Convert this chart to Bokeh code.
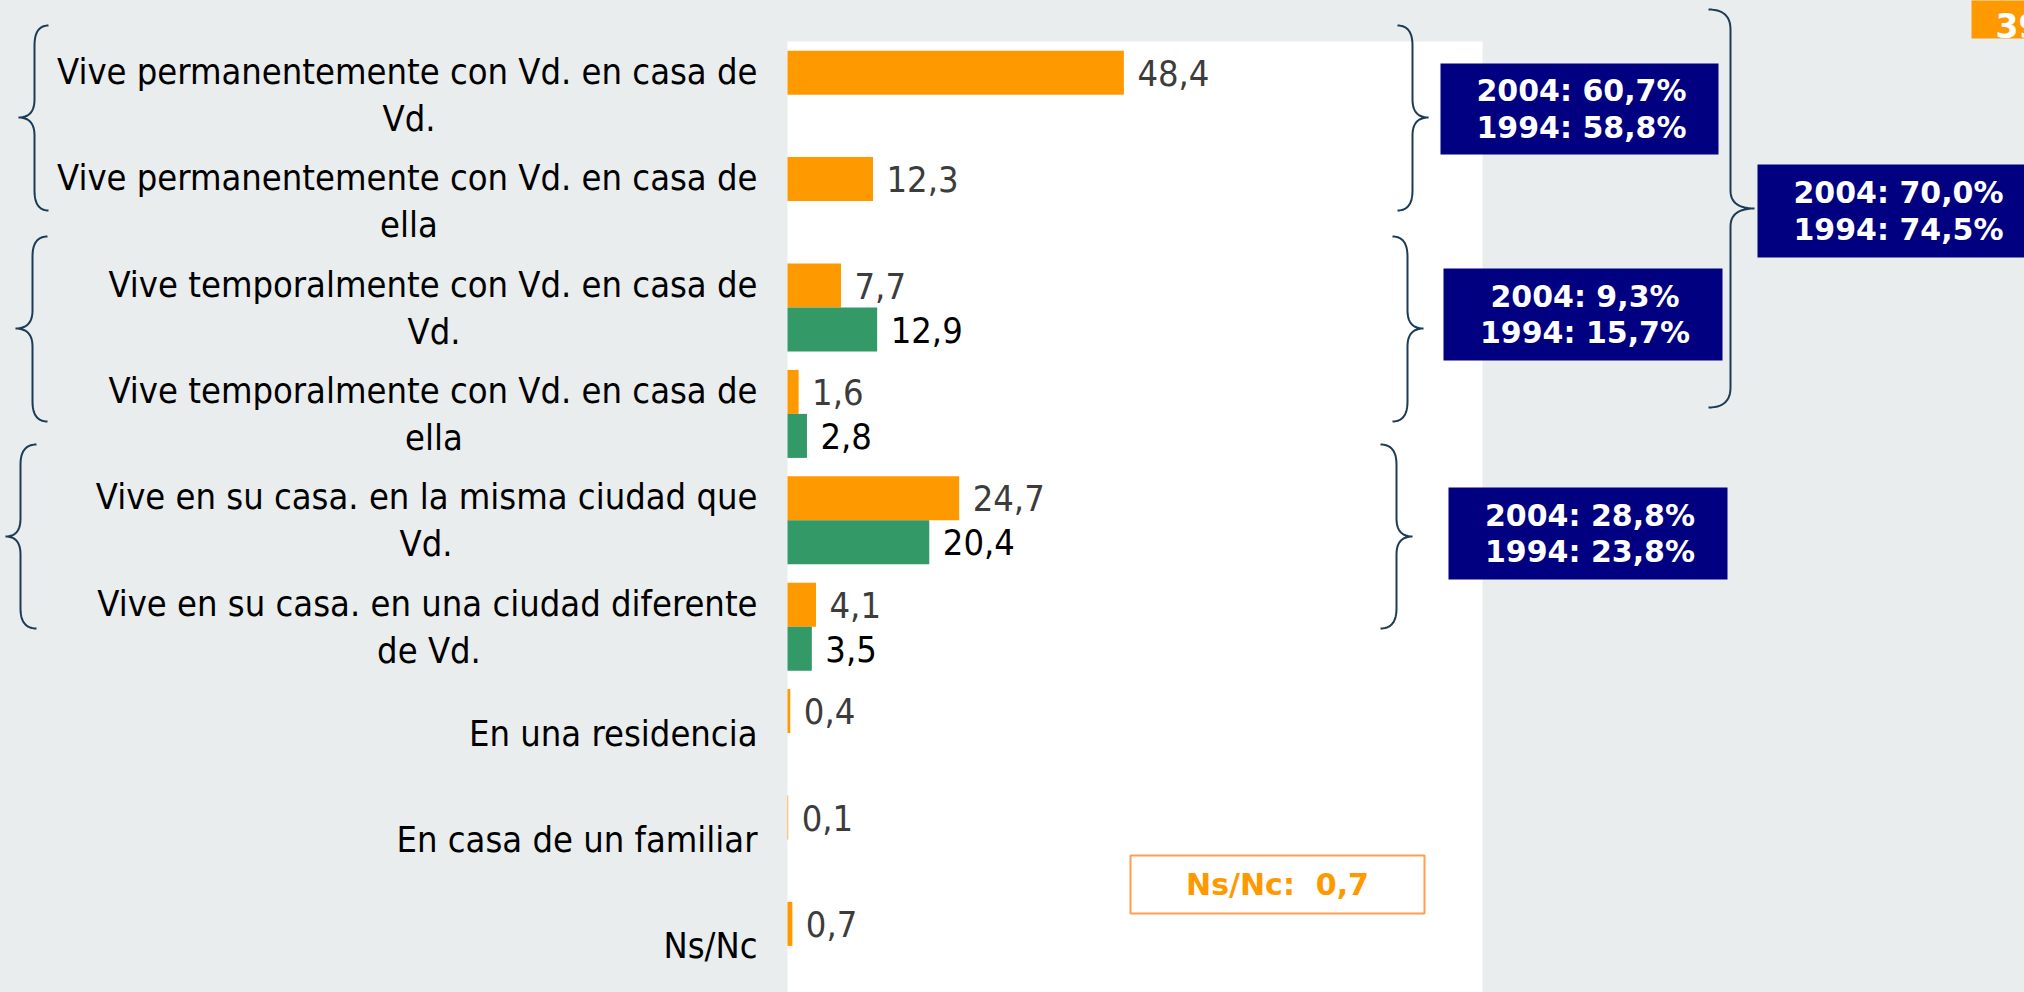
import numpy as np
from bokeh.plotting import figure
from bokeh.models import Range1d, BoxAnnotation
from bokeh.core.properties import value
from bokeh.embed import file_html
from bokeh.resources import INLINE

# ---------------- data ----------------
categories = [
    "Vive permanentemente con Vd. en casa de\nVd.",
    "Vive permanentemente con Vd. en casa de\nella",
    "Vive temporalmente con Vd. en casa de\nVd.",
    "Vive temporalmente con Vd. en casa de\nella",
    "Vive en su casa. en la misma ciudad que\nVd.",
    "Vive en su casa. en una ciudad diferente\nde Vd.",
    "En una residencia",
    "En casa de un familiar",
    "Ns/Nc",
]
values_2004 = [48.4, 12.3, 7.7, 1.6, 24.7, 4.1, 0.4, 0.1, 0.7]
values_1994 = [None, None, 12.9, 2.8, 20.4, 3.5, None, None, None]
group_totals_2004 = [60.7, 9.3, 28.8, 70.0]
group_totals_1994 = [58.8, 15.7, 23.8, 74.5]
page_number = "39"

# ---------------- layout / style ----------------
M = 0                      # page margin (set to 0 by the page style below)
W, H = 2024, 992           # figure size
PX0, KX = 787.0, 6.95      # page x of value 0, px per unit
PY0, KY = 41.0, 106.4      # page y of top of first slot, px per category
GRAY = "#E9EDEE"
ORANGE = "#FF9900"
GREEN = "#339966"
NAVY = "#000080"
BRACE = "#1B3B56"
FONT = "DejaVu Sans Condensed"
BOLD_FONT = "DejaVu Sans"

def X(px):
    return (px - PX0) / KX

def Y(py):
    return (py - PY0) / KY - 0.5

def fmt(v):
    return f"{v:.1f}".replace(".", ",")

p = figure(width=W, height=H, title=None,
           x_range=Range1d(X(M), X(M + W)), y_range=Range1d(Y(M + H), Y(M)),
           x_axis_type=None, y_axis_type=None,
           output_backend="svg", toolbar_location=None, min_border=0,
           background_fill_color=GRAY, border_fill_color=GRAY,
           outline_line_color=None)

# white plotting panel (value axis 0..100)
p.add_layout(BoxAnnotation(left=0, right=100, top=-0.5, fill_color="white",
                           fill_alpha=1, line_color=None, level="underlay"))

BAR_H = 44 / KY
idx = np.arange(len(categories))

# bars
p.hbar(y=idx - BAR_H / 2, left=0, right=values_2004, height=BAR_H,
       fill_color=ORANGE, line_color=None)
i94 = [i for i, v in enumerate(values_1994) if v is not None]
v94 = [values_1994[i] for i in i94]
p.hbar(y=[i + BAR_H / 2 for i in i94], left=0, right=v94, height=BAR_H,
       fill_color=GREEN, line_color=None)

# value labels
GAP = 13.5 / KX
p.text(x=[v + GAP for v in values_2004], y=idx - BAR_H / 2,
       text=[fmt(v) for v in values_2004], text_align="left", text_baseline="middle",
       text_font=value(FONT), text_font_size="36px", text_color="#3C3C3C")
p.text(x=[v + GAP for v in v94], y=[i + BAR_H / 2 for i in i94],
       text=[fmt(v) for v in v94], text_align="left", text_baseline="middle",
       text_font=value(FONT), text_font_size="36px", text_color="#000000")

# category labels (first line right-aligned, second line centred under it)
label_right_px = 757
label_line1_px = [697, 697, 647, 647, 663, 657, 0, 0, 0]
LINE_OFF = 23.5 / KY
l1x, l1y, l1t, l2x, l2y, l2t = [], [], [], [], [], []
for i, cat in enumerate(categories):
    parts = cat.split("\n")
    if len(parts) == 1:
        l1x.append(X(label_right_px)); l1y.append(i); l1t.append(parts[0])
    else:
        l1x.append(X(label_right_px)); l1y.append(i - LINE_OFF); l1t.append(parts[0])
        l2x.append(X(label_right_px - label_line1_px[i] / 2)); l2y.append(i + LINE_OFF); l2t.append(parts[1])
p.text(x=l1x, y=l1y, text=l1t, text_align="right", text_baseline="middle",
       text_font=value(FONT), text_font_size="36px", text_color="black")
p.text(x=l2x, y=l2y, text=l2t, text_align="center", text_baseline="middle",
       text_font=value(FONT), text_font_size="36px", text_color="black")

# braces  (end x, vertical x, tip x, top y, mid y, bottom y) in page px
def brace(xe, xv, xt, yt, ym, yb, re=20, rm=18, n=14):
    t = np.linspace(0, 1, n)
    def q(p0, c, p1):
        return ((1 - t) ** 2 * p0[0] + 2 * (1 - t) * t * c[0] + t ** 2 * p1[0],
                (1 - t) ** 2 * p0[1] + 2 * (1 - t) * t * c[1] + t ** 2 * p1[1])
    segs = [q((xe, yt), (xv, yt), (xv, yt + re)),
            q((xv, ym - rm), (xv, ym), (xt, ym)),
            q((xt, ym), (xv, ym), (xv, ym + rm)),
            q((xv, yb - re), (xv, yb), (xe, yb))]
    xs = np.concatenate([s[0] for s in segs])
    ys = np.concatenate([s[1] for s in segs])
    return [X(v) for v in xs], [Y(v) for v in ys]

brace_specs = [
    (48, 34, 18, 25, 117, 210),
    (47, 32, 15, 236, 328, 421),
    (36, 20, 5, 444, 536, 628),
    (1397, 1412, 1428, 25, 117, 210),
    (1392, 1407, 1423, 236, 328, 421),
    (1380, 1396, 1412, 444, 536, 628),
    (1708, 1730, 1754, 9, 208, 407),
]
bxs, bys = [], []
for spec in brace_specs:
    bx, by = brace(*spec)
    bxs.append(bx); bys.append(by)
p.multi_line(xs=bxs, ys=bys, line_color=BRACE, line_width=2)

# summary boxes (left, right, top, bottom) in page px
box_specs = [(1440, 1718, 63, 154), (1443, 1722, 268, 360),
             (1448, 1727, 487, 579), (1757, 2040, 164, 257)]
p.quad(left=[X(b[0]) for b in box_specs], right=[X(b[1]) for b in box_specs],
       top=[Y(b[2]) for b in box_specs], bottom=[Y(b[3]) for b in box_specs],
       fill_color=NAVY, line_color=None)
bx_c = [X((b[0] + b[1]) / 2 + 2) for b in box_specs[:3]] + [X(1898)]
by_c = [(b[2] + b[3]) / 2 for b in box_specs]
p.text(x=bx_c, y=[Y(c - 18.3) for c in by_c],
       text=[f"2004: {fmt(v)}%" for v in group_totals_2004],
       text_align="center", text_baseline="middle", text_font=value(BOLD_FONT),
       text_font_style="bold", text_font_size="30px", text_color="white")
p.text(x=bx_c, y=[Y(c + 18.3) for c in by_c],
       text=[f"1994: {fmt(v)}%" for v in group_totals_1994],
       text_align="center", text_baseline="middle", text_font=value(BOLD_FONT),
       text_font_style="bold", text_font_size="30px", text_color="white")

# Ns/Nc box
p.quad(left=[X(1130)], right=[X(1424)], top=[Y(855)], bottom=[Y(913)],
       fill_color="white", line_color="#FF9E4F", line_width=2)
p.text(x=[X(1277)], y=[Y(884)], text=[f"Ns/Nc:\u00a0 {fmt(values_2004[-1])}"],
       text_align="center", text_baseline="middle", text_font=value(BOLD_FONT),
       text_font_style="bold", text_font_size="30px", text_color=ORANGE)

# page tag
p.quad(left=[X(1971)], right=[X(2040)], top=[Y(-5)], bottom=[Y(38)],
       fill_color=ORANGE, line_color=None)
p.text(x=[X(1995)], y=[Y(25)], text=[page_number], text_align="left",
       text_baseline="alphabetic", text_font=value(BOLD_FONT),
       text_font_style="bold", text_font_size="33px", text_color="white")

TEMPLATE = """{% block preamble %}<style>html, body { margin: 0; padding: 0; overflow: hidden; background: #E9EDEE; }</style>{% endblock %}"""
open("out.html", "w").write(file_html(p, INLINE, template=TEMPLATE))
